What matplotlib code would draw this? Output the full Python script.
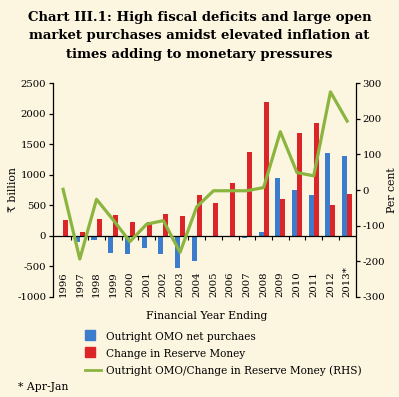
import matplotlib
matplotlib.use("Agg")
import matplotlib.pyplot as plt
import numpy as np
from matplotlib.patches import Patch, Rectangle
from matplotlib.lines import Line2D
from matplotlib.legend_handler import HandlerPatch

years = ["1996", "1997", "1998", "1999", "2000", "2001", "2002", "2003", "2004",
         "2005", "2006", "2007", "2008", "2009", "2010", "2011", "2012", "2013*"]
omo = [0, -105, -62, -290, -300, -208, -300, -530, -415,
       -10, -12, -40, 66, 947, 755, 673, 1351, 1302]
reserve = [258, 60, 280, 340, 230, 232, 353, 320, 673,
           530, 858, 1368, 2200, 596, 1690, 1850, 504, 684]
ratio = [2, -194, -26, -84, -145, -96, -86, -175, -47,
         -2, -2, -2, 7, 164, 49, 40, 276, 194]

bg = "#fcf5e0"
blue = "#3b7ccc"
red = "#dc2528"
green = "#8ab53f"

plt.rcParams['font.family'] = ['DejaVu Serif', 'DejaVu Sans']
plt.rcParams['axes.unicode_minus'] = False

fig = plt.figure(figsize=(3.99, 3.97), dpi=100, facecolor=bg)
ax = fig.add_axes([0.133, 0.2526, 0.758, 0.5374])
ax.set_facecolor(bg)
x = np.arange(len(years))
w = 0.3
ax.bar(x - w/2, omo, width=w, color=blue, zorder=2)
ax.bar(x + w/2, reserve, width=w, color=red, zorder=2)
ax.set_ylim(-1000, 2500)
ax.set_yticks(np.arange(-1000, 2501, 500))
ax.set_xlim(-0.6, 17.5)
ax.axhline(0, color="black", lw=0.9, zorder=3)

for s in ["top", "bottom", "right"]:
    ax.spines[s].set_visible(False)
ax.spines["left"].set_linewidth(0.9)
ax.tick_params(axis="y", direction="out", length=3, width=0.9, labelsize=7.3, pad=2)

ax.set_xticks(x)
ax.set_xticklabels(years, rotation=90, fontsize=7.3, va="bottom")
ax.tick_params(axis="x", length=0, pad=0.5)

# boundary ticks on the zero line
sec = ax.secondary_xaxis(1000 / 3500)
sec.spines["bottom"].set_visible(False)
sec.set_xticks(np.arange(-0.5, len(years), 1)[1:-1])
sec.set_xticklabels([])
sec.tick_params(axis="x", length=3, width=0.8, direction="out")

ax.set_ylabel("₹ billion", fontsize=7.8)
ax.yaxis.set_label_coords(-0.115, 0.5)
ax.set_xlabel("Financial Year Ending", fontsize=7.8)
ax.xaxis.set_label_coords(0.508, -0.068)

ax2 = ax.twinx()
ax2.plot(x, ratio, color=green, lw=2.3, zorder=4)
ax2.set_ylim(-300, 300)
ax2.set_yticks(np.arange(-300, 301, 100))
for s in ["top", "bottom", "left"]:
    ax2.spines[s].set_visible(False)
ax2.spines["right"].set_linewidth(0.9)
ax2.tick_params(axis="y", direction="out", length=3, width=0.9, labelsize=7.3, pad=2)
ax2.set_ylabel("Per cent", fontsize=7.8, rotation=90)
ax2.yaxis.set_label_coords(1.104, 0.5)

fig.text(0.5, 0.972, "Chart III.1: High fiscal deficits and large open\n"
         "market purchases amidst elevated inflation at\n"
         "times adding to monetary pressures",
         ha="center", va="top", fontsize=9.5, fontweight="bold", linespacing=1.52)


def square(legend, orig_handle, xdescent, ydescent, width, height, fontsize):
    s = height * 1.1
    return Rectangle((xdescent, ydescent + (height - s) / 2), s, s)


handles = [Patch(color=blue), Patch(color=red), Line2D([], [], color=green, lw=2)]
labels = ["Outright OMO net purchaes", "Change in Reserve Money",
          "Outright OMO/Change in Reserve Money (RHS)"]
fig.legend(handles, labels, loc="upper left", bbox_to_anchor=(0.213, 0.163),
           frameon=False, fontsize=7.6, handlelength=1.55, handleheight=0.9,
           handletextpad=0.4, labelspacing=0.62, borderaxespad=0, borderpad=0,
           handler_map={Patch: HandlerPatch(patch_func=square)})

fig.text(0.045, 0.025, "* Apr-Jan", fontsize=7.8, ha="left", va="center")

fig.savefig("out.png", dpi=100, facecolor=bg)
